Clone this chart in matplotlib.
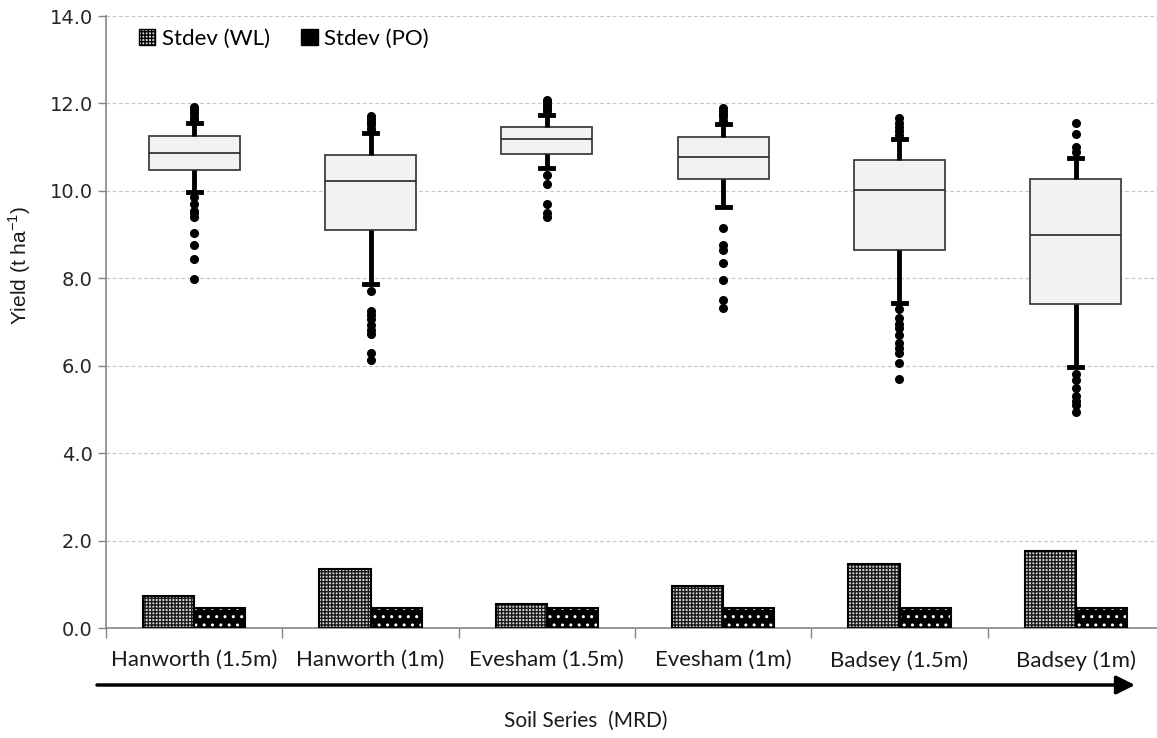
import matplotlib
matplotlib.use('Agg')
import matplotlib.pyplot as plt
from matplotlib.patches import Patch
from matplotlib.ticker import FormatStrFormatter, MultipleLocator

plt.rcParams['hatch.linewidth'] = 1.0

soils = ['Hanworth (1.5m)', 'Hanworth (1m)', 'Evesham (1.5m)',
         'Evesham (1m)', 'Badsey (1.5m)', 'Badsey (1m)']

# box summaries (t/ha): lower whisker, q1, median, q3, upper whisker
whislo = [9.98, 7.88, 10.52, 9.63, 7.44, 5.96]
q1 = [10.48, 9.11, 10.84, 10.26, 8.64, 7.41]
med = [10.87, 10.23, 11.19, 10.78, 10.01, 9.00]
q3 = [11.26, 10.82, 11.45, 11.23, 10.70, 10.28]
whishi = [11.55, 11.32, 11.74, 11.53, 11.19, 10.76]

outliers = [
    [11.62, 11.7, 11.78, 11.85, 11.92,
     9.86, 9.7, 9.55, 9.49, 9.4, 9.04, 8.76, 8.44, 7.99],
    [11.42, 11.5, 11.58, 11.65, 11.71,
     7.72, 7.26, 7.16, 7.06, 6.93, 6.82, 6.73, 6.3, 6.13],
    [11.82, 11.9, 11.97, 12.03, 12.08,
     10.36, 10.16, 9.7, 9.5, 9.41],
    [11.6, 11.68, 11.76, 11.83, 11.89,
     9.15, 8.76, 8.65, 8.36, 7.95, 7.5, 7.31],
    [11.28, 11.38, 11.47, 11.56, 11.67,
     7.3, 7.09, 6.95, 6.86, 6.7, 6.51, 6.4, 6.28, 6.06, 5.7],
    [10.9, 11.0, 11.29, 11.55,
     5.8, 5.67, 5.5, 5.3, 5.2, 5.1, 4.95],
]

stdev_wl = [0.73, 1.35, 0.54, 0.97, 1.46, 1.76]
stdev_po = [0.46, 0.46, 0.46, 0.46, 0.46, 0.46]

fig = plt.figure(figsize=(11.57, 7.38), dpi=100)
ax = fig.add_axes([106/1157, 110/738, 1058/1157, 612/738])

pos = [i + 0.5 for i in range(len(soils))]

stats = []
for i in range(len(soils)):
    stats.append(dict(whislo=whislo[i], q1=q1[i], med=med[i], q3=q3[i],
                      whishi=whishi[i], fliers=outliers[i]))

ax.bxp(stats, positions=pos, widths=0.515, patch_artist=True,
       capwidths=0.075,
       boxprops=dict(facecolor='#f2f2f2', edgecolor='#404040', linewidth=1.3),
       medianprops=dict(color='#262626', linewidth=1.2),
       whiskerprops=dict(color='black', linewidth=3.5, solid_capstyle='butt'),
       capprops=dict(color='black', linewidth=3.5),
       flierprops=dict(marker='o', markerfacecolor='black',
                       markeredgecolor='black', markersize=5.5))

# stdev bars
bw = 0.29
x_wl = [p - bw/2 for p in pos]
x_po = [p + bw/2 for p in pos]
ax.bar(x_wl, stdev_wl, bw, color='#d9d9d9', edgecolor='#1a1a1a', hatch='+++++',
       linewidth=0, zorder=2)
ax.bar(x_wl, stdev_wl, bw, fill=False, edgecolor='black', linewidth=1.5, zorder=3)
ax.bar(x_po, stdev_po, bw, color='black', edgecolor='white', hatch='..',
       linewidth=0, zorder=2)
ax.bar(x_po, stdev_po, bw, fill=False, edgecolor='black', linewidth=1.5, zorder=3)

ax.set_xlim(0, 6)
ax.set_ylim(0, 14)
ax.yaxis.set_major_locator(MultipleLocator(2))
ax.yaxis.set_major_formatter(FormatStrFormatter('%.1f'))
ax.yaxis.grid(True, linestyle=(0, (3, 2)), color='#c8c8c8', linewidth=0.9)
ax.set_axisbelow(True)

ax.set_xticks(pos)
ax.set_xticklabels(soils, fontfamily='Lato', fontsize=16, color='#1a1a1a')
ax.set_xticks(range(7), minor=True)
ax.tick_params(axis='x', which='major', length=0, pad=16)
ax.tick_params(axis='x', which='minor', length=7, color='#868686', width=1)
ax.tick_params(axis='y', length=6, color='#868686', width=1, labelsize=14,
               colors='#262626')
for lbl in ax.get_yticklabels():
    lbl.set_fontfamily('DejaVu Sans')

for s in ['top', 'right']:
    ax.spines[s].set_visible(False)
for s in ['left', 'bottom']:
    ax.spines[s].set_color('#868686')
    ax.spines[s].set_linewidth(1.2)

handles = [Patch(facecolor='#d9d9d9', edgecolor='black', hatch='+++++', label='Stdev (WL)'),
           Patch(facecolor='black', edgecolor='black', hatch='..', label='Stdev (PO)')]
ax.legend(handles=handles, loc='upper left', bbox_to_anchor=(0.012, 1.012), ncol=2,
          frameon=False, prop=dict(family='Lato', size=16), handlelength=0.75,
          handleheight=0.75, handletextpad=0.3, columnspacing=1.4)

# direction arrow under the soil names
ax.annotate('', xy=(1135/1157, 1 - 685/738), xytext=(97/1157, 1 - 685/738),
            xycoords='figure fraction', textcoords='figure fraction',
            arrowprops=dict(arrowstyle='-|>', color='black', lw=2.5,
                            mutation_scale=28, shrinkA=0, shrinkB=0))

fig.text(0.506, 1 - 721/738, 'Soil Series  (MRD)', ha='center', va='center',
         fontfamily='Lato', fontsize=15, color='#1a1a1a')
fig.text(20/1157, 1 - 265/738, 'Yield (t ha$^{\\mathregular{-1}}$)', ha='center',
         va='center', rotation=90, fontfamily='Liberation Sans', fontsize=15,
         color='#1a1a1a')

fig.savefig('out.png', dpi=100)
